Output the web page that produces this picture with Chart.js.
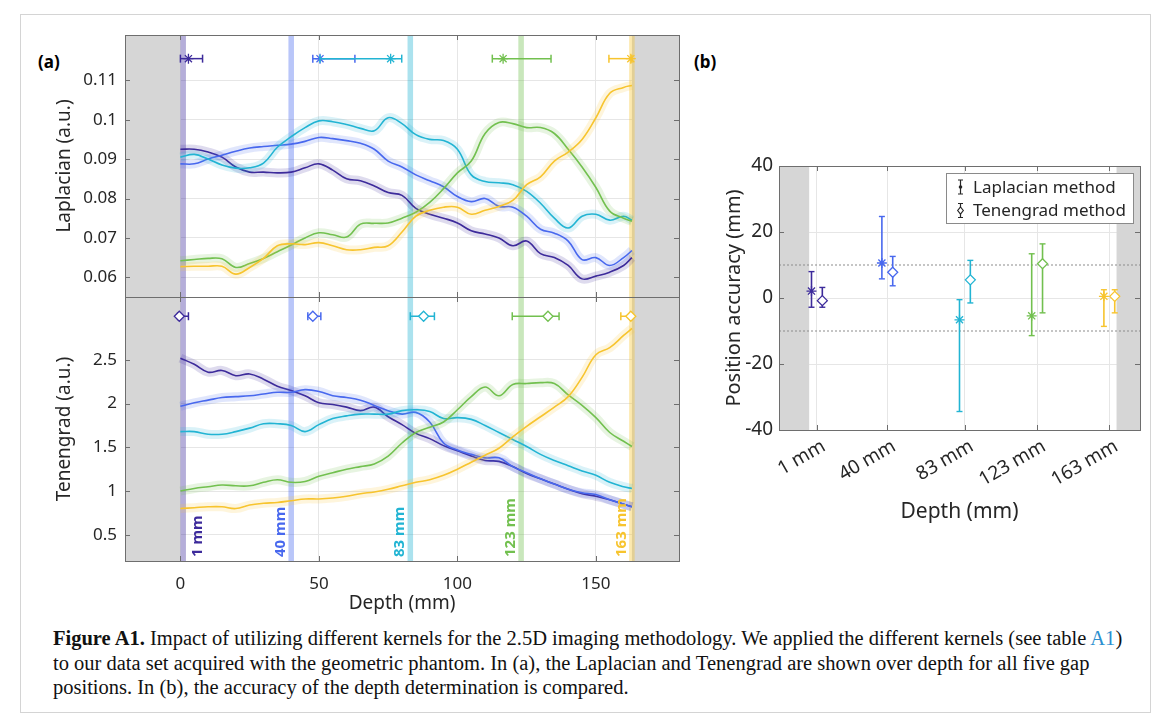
<!DOCTYPE html>
<html>
<head>
<meta charset="utf-8">
<title>Figure A1</title>
<script src="https://cdn.jsdelivr.net/npm/chart.js@4.4.1/dist/chart.umd.min.js"></script>
<style>
  html, body { margin: 0; padding: 0; background: #fff; }
  body { position: relative; width: 1171px; height: 724px; overflow: hidden; font-family: "Noto Sans", sans-serif; }
  canvas { position: absolute; }
  .tag { position: absolute; font-weight: bold; font-size: 17px; color: #000; }
  #caption { position: absolute; left: 53px; top: 626px; font-family: "Liberation Serif", serif; font-size: 20.5px; line-height: 24.5px; color: #111; white-space: nowrap; }
  #caption span { color: #2b8fcf; }
  #frame { position: absolute; left: 20px; top: 14px; width: 1129px; height: 697px; border: 1px solid #d4d4d4; }
</style>
</head>
<body>
<div id="frame"></div>
<div class="tag" style="left:38px; top:50px">(a)</div>
<div class="tag" style="left:694px; top:50px">(b)</div>
<canvas id="lap" width="650" height="267" style="left:40px; top:30px"></canvas>
<canvas id="ten" width="650" height="324" style="left:40px; top:297px"></canvas>
<canvas id="acc" width="450" height="380" style="left:700px; top:150px"></canvas>
<div id="caption">
  <b>Figure A1.</b> Impact of utilizing different kernels for the 2.5D imaging methodology. We applied the different kernels (see table <span>A1</span>)<br>
  to our data set acquired with the geometric phantom. In (a), the Laplacian and Tenengrad are shown over depth for all five gap<br>
  positions. In (b), the accuracy of the depth determination is compared.
</div>
<script>
// depth grid (mm) for the curves of panel (a)
const depth = [0, 5, 10, 15, 20, 25, 30, 35, 40, 45, 50, 55, 60, 65, 70, 75, 80, 85, 90, 95, 100, 105, 110, 115, 120, 125, 130, 135, 140, 145, 150, 155, 160, 163];

// gap positions
const gapDepths = [1, 40, 83, 123, 163];
const gapNames = ['1 mm', '40 mm', '83 mm', '123 mm', '163 mm'];
const gapColors = ['#3d2b9b', '#4868ee', '#22b4d3', '#72c04f', '#f7c42e'];

// Laplacian over depth, one array per gap position
const lap1 = [0.0925, 0.0925, 0.0918, 0.0905, 0.0880, 0.0867, 0.0867, 0.0865, 0.0867, 0.0878, 0.0888, 0.0872, 0.0850, 0.0845, 0.0832, 0.0815, 0.0808, 0.0775, 0.0760, 0.0750, 0.0738, 0.0718, 0.0710, 0.0700, 0.0680, 0.0692, 0.0660, 0.0650, 0.0630, 0.0596, 0.0603, 0.0613, 0.0630, 0.0650];
const lap40 = [0.0888, 0.0888, 0.0900, 0.0910, 0.0920, 0.0928, 0.0932, 0.0935, 0.0938, 0.0945, 0.0955, 0.0952, 0.0947, 0.0940, 0.0925, 0.0895, 0.0880, 0.0860, 0.0845, 0.0830, 0.0805, 0.0792, 0.0800, 0.0780, 0.0778, 0.0755, 0.0722, 0.0712, 0.0692, 0.0645, 0.0650, 0.0630, 0.0650, 0.0668];
const lap83 = [0.0905, 0.0912, 0.0900, 0.0885, 0.0877, 0.0878, 0.0890, 0.0930, 0.0957, 0.0980, 0.0997, 0.0995, 0.0988, 0.0978, 0.0972, 0.1005, 0.0990, 0.0962, 0.0950, 0.0947, 0.0925, 0.0860, 0.0843, 0.0840, 0.0835, 0.0818, 0.0788, 0.0750, 0.0725, 0.0755, 0.0760, 0.0745, 0.0755, 0.0745];
const lap123 = [0.0642, 0.0645, 0.0648, 0.0647, 0.0625, 0.0635, 0.0648, 0.0665, 0.0682, 0.0700, 0.0713, 0.0708, 0.0702, 0.0735, 0.0737, 0.0738, 0.0750, 0.0765, 0.0790, 0.0825, 0.0865, 0.0895, 0.0965, 0.0993, 0.0990, 0.0980, 0.0980, 0.0965, 0.0925, 0.0880, 0.0828, 0.0768, 0.0750, 0.0742];
const lap163 = [0.0627, 0.0628, 0.0628, 0.0628, 0.0608, 0.0625, 0.0648, 0.0680, 0.0685, 0.0683, 0.0688, 0.0680, 0.0670, 0.0670, 0.0676, 0.0680, 0.0715, 0.0755, 0.0770, 0.0778, 0.0778, 0.0760, 0.0770, 0.0780, 0.0795, 0.0835, 0.0855, 0.0895, 0.0918, 0.0950, 0.1005, 0.1067, 0.1082, 0.1087];

// Tenengrad over depth
const ten1 = [2.52, 2.45, 2.36, 2.38, 2.32, 2.34, 2.28, 2.20, 2.15, 2.09, 2.01, 1.99, 1.96, 1.92, 1.96, 1.85, 1.76, 1.66, 1.60, 1.52, 1.46, 1.40, 1.35, 1.34, 1.28, 1.20, 1.14, 1.08, 1.02, 0.97, 0.94, 0.90, 0.85, 0.82];
const ten40 = [1.97, 2.01, 2.04, 2.07, 2.08, 2.09, 2.11, 2.13, 2.13, 2.16, 2.14, 2.09, 2.07, 2.04, 1.98, 1.92, 1.88, 1.90, 1.79, 1.55, 1.47, 1.42, 1.38, 1.38, 1.28, 1.21, 1.14, 1.08, 1.02, 0.98, 0.96, 0.90, 0.85, 0.82];
const ten83 = [1.68, 1.68, 1.65, 1.65, 1.68, 1.72, 1.77, 1.77, 1.75, 1.68, 1.76, 1.83, 1.86, 1.88, 1.88, 1.88, 1.92, 1.93, 1.91, 1.83, 1.84, 1.82, 1.75, 1.67, 1.59, 1.51, 1.42, 1.35, 1.29, 1.23, 1.18, 1.10, 1.05, 1.03];
const ten123 = [1.00, 1.03, 1.05, 1.07, 1.06, 1.06, 1.10, 1.13, 1.10, 1.11, 1.17, 1.21, 1.25, 1.28, 1.31, 1.40, 1.55, 1.67, 1.73, 1.79, 1.93, 2.08, 2.19, 2.09, 2.22, 2.23, 2.24, 2.23, 2.10, 1.98, 1.84, 1.67, 1.57, 1.51];
const ten163 = [0.80, 0.81, 0.82, 0.82, 0.80, 0.84, 0.86, 0.87, 0.89, 0.91, 0.91, 0.92, 0.94, 0.97, 0.99, 1.02, 1.06, 1.10, 1.13, 1.18, 1.25, 1.33, 1.41, 1.49, 1.62, 1.74, 1.85, 1.96, 2.08, 2.30, 2.56, 2.64, 2.78, 2.86];

// estimated depth of each gap (mm), with ranges, shown as markers in (a)
const lapEst = [2.9, 50.4, 75.9, 116.5, 162.6];
const lapEstLo = [0, 47.8, 50.4, 112.6, 154.7];
const lapEstHi = [8, 63, 79.9, 133.8, 163];
const lapMarkLevel = 0.1155;
const tenEst = [-0.4, 47.8, 87.8, 132.7, 162.6];
const tenEstLo = [-1, 46, 83, 119.8, 159];
const tenEstHi = [2.9, 50.7, 91.7, 136.7, 163];
const tenMarkLevel = 3.0;

// position accuracy (mm), panel (b)
const accLap = [2.1, 10.6, -6.6, -5.4, 0.5];
const accLapLo = [-2.8, 5.8, -34.4, -11.4, -8.6];
const accLapHi = [8.0, 24.7, -0.5, 13.4, 2.5];
const accTen = [-0.8, 7.8, 5.5, 10.4, 0.5];
const accTenLo = [-2.8, 3.7, -1.5, -4.5, -4.5];
const accTenHi = [3.2, 12.6, 11.4, 16.4, 2.5];
const methodNames = ['Laplacian method', 'Tenengrad method'];
const toleranceLines = [10, -10];

// ticks and shaded areas
const lapTicks = [0.06, 0.07, 0.08, 0.09, 0.1, 0.11];
const tenTicks = [0.5, 1, 1.5, 2, 2.5];
const depthTicks = [0, 50, 100, 150];
const accTicks = [-40, -20, 0, 20, 40];
const outsideA = [[-20, 0], [163, 180]];
const outsideB = [[-20, -3.3], [167, 180]];

Chart.defaults.font.family = "'Noto Sans', sans-serif";
Chart.defaults.color = '#262626';

const gridColor = '#e6e6e6';
const textColor = '#262626';

function fade(hex, a) {
  const n = parseInt(hex.slice(1), 16);
  return `rgba(${n >> 16}, ${(n >> 8) & 255}, ${n & 255}, ${a})`;
}

// keep the plot box where it is meant to be (no room reserved for edge labels)
function noPad(s) {
  s.paddingTop = 0; s.paddingBottom = 0; s.paddingLeft = 0; s.paddingRight = 0;
}

// grey out-of-phantom zones + coloured gap bands
const regionsPlugin = {
  id: 'regions',
  beforeDatasetsDraw(chart, args, opts) {
    const { ctx, chartArea: a, scales: { x } } = chart;
    ctx.save();
    ctx.fillStyle = '#d6d6d6';
    (opts.gray || []).forEach(([lo, hi]) => {
      const l = Math.max(a.left, x.getPixelForValue(lo));
      const r = Math.min(a.right, x.getPixelForValue(hi));
      ctx.fillRect(l, a.top, r - l, a.bottom - a.top);
    });
    (opts.bands || []).forEach((d, i) => {
      const l = x.getPixelForValue(d - 1), r = x.getPixelForValue(d + 1);
      ctx.fillStyle = fade(gapColors[i], 0.38);
      ctx.fillRect(l, a.top, r - l, a.bottom - a.top);
    });
    ctx.restore();
  },
  afterDatasetsDraw(chart, args, opts) {
    if (!opts.labels) return;
    const { ctx, chartArea: a, scales: { x } } = chart;
    ctx.save();
    ctx.font = 'bold 15px "Noto Sans"';
    ctx.textBaseline = 'middle';
    ctx.textAlign = 'left';
    gapDepths.forEach((d, i) => {
      const px = x.getPixelForValue(d) + (i === 0 ? 15 : -10.5);
      ctx.save();
      ctx.translate(px, a.bottom - 4);
      ctx.rotate(-Math.PI / 2);
      ctx.fillStyle = gapColors[i];
      ctx.fillText(gapNames[i], 0, 0);
      ctx.restore();
    });
    ctx.restore();
  }
};

// MATLAB style box with inward ticks
const framePlugin = {
  id: 'frame',
  afterDatasetsDraw(chart) {
    const { ctx, chartArea: a, scales: { x, y } } = chart;
    const len = 5;
    ctx.save();
    ctx.strokeStyle = '#6e6e6e';
    ctx.lineWidth = 1;
    ctx.strokeRect(Math.round(a.left) + 0.5, Math.round(a.top) + 0.5, Math.round(a.right - a.left), Math.round(a.bottom - a.top));
    ctx.beginPath();
    x.ticks.forEach(t => {
      const px = Math.round(x.getPixelForValue(t.value)) + 0.5;
      ctx.moveTo(px, a.top); ctx.lineTo(px, a.top + len);
      ctx.moveTo(px, a.bottom); ctx.lineTo(px, a.bottom - len);
    });
    y.ticks.forEach(t => {
      const py = Math.round(y.getPixelForValue(t.value)) + 0.5;
      ctx.moveTo(a.left, py); ctx.lineTo(a.left + len, py);
      ctx.moveTo(a.right, py); ctx.lineTo(a.right - len, py);
    });
    ctx.stroke();
    ctx.restore();
  }
};

const accLegend = {
  id: 'accLegend',
  afterDraw(chart) {
    const { ctx, chartArea: a } = chart;
    const w = 187, h = 50, x0 = Math.round(a.right - 7 - w), y0 = Math.round(a.top + 7);
    ctx.save();
    ctx.fillStyle = '#fff';
    ctx.fillRect(x0, y0, w, h);
    ctx.strokeStyle = '#8a8a8a';
    ctx.lineWidth = 1;
    ctx.strokeRect(x0 + 0.5, y0 + 0.5, w, h);
    methodNames.forEach((label, i) => {
      const cy = y0 + 14 + i * 23.5, ix = x0 + 14.5;
      ctx.strokeStyle = textColor;
      ctx.lineWidth = 1.2;
      ctx.beginPath();
      ctx.moveTo(ix, cy - 7); ctx.lineTo(ix, cy + 7);
      ctx.moveTo(ix - 2.5, cy - 7); ctx.lineTo(ix + 2.5, cy - 7);
      ctx.moveTo(ix - 2.5, cy + 7); ctx.lineTo(ix + 2.5, cy + 7);
      ctx.stroke();
      if (i === 0) {
        ctx.fillStyle = textColor;
        ctx.beginPath(); ctx.arc(ix, cy, 1.8, 0, Math.PI * 2); ctx.fill();
      } else {
        ctx.fillStyle = '#fff';
        ctx.beginPath();
        ctx.moveTo(ix, cy - 3.5); ctx.lineTo(ix + 2.8, cy); ctx.lineTo(ix, cy + 3.5); ctx.lineTo(ix - 2.8, cy); ctx.closePath();
        ctx.fill(); ctx.stroke();
      }
      ctx.fillStyle = textColor;
      ctx.font = '17px "Noto Sans"';
      ctx.textBaseline = 'middle';
      ctx.textAlign = 'left';
      ctx.fillText(label, x0 + 27, cy + 1);
    });
    ctx.restore();
  }
};

function curveSets(values, color) {
  const pts = depth.map((d, i) => ({ x: d, y: values[i] }));
  return [
    { data: pts, showLine: true, borderColor: fade(color, 0.17), borderWidth: 9, pointRadius: 0, tension: 0.4 },
    { data: pts, showLine: true, borderColor: color, borderWidth: 1.6, pointRadius: 0, tension: 0.4 }
  ];
}

function hBar(lo, hi, y, color) {
  return {
    data: [{ x: lo, y }, { x: hi, y }], showLine: true, borderColor: color, borderWidth: 1.5,
    pointStyle: 'line', pointRotation: 90, pointRadius: 4, pointBorderColor: color, pointBorderWidth: 1.5
  };
}

function vBar(x, lo, hi, color) {
  return {
    data: [{ x, y: lo }, { x, y: hi }], showLine: true, borderColor: color, borderWidth: 1.6,
    pointStyle: 'line', pointRadius: 3, pointBorderColor: color, pointBorderWidth: 1.4
  };
}

function marker(x, y, color, style) {
  return {
    data: [{ x, y }], pointStyle: style, pointRadius: 5, pointBorderColor: color,
    pointBackgroundColor: '#fff', pointBorderWidth: 1.3
  };
}

function depthAxis(showLabels) {
  return {
    type: 'linear', min: -20, max: 180,
    afterBuildTicks: s => { s.ticks = depthTicks.map(v => ({ value: v })); },
    afterFit: s => { s.height = showLabels ? 60 : 0; noPad(s); },
    ticks: { display: showLabels, padding: 13, font: { size: 17 }, color: textColor },
    grid: { color: gridColor, drawTicks: false },
    border: { display: false },
    title: { display: showLabels, text: 'Depth (mm)', font: { size: 19 }, color: textColor, padding: { top: 0, bottom: 6 } }
  };
}

function valueAxis(min, max, ticks, label) {
  return {
    type: 'linear', min, max,
    afterBuildTicks: s => { s.ticks = ticks.map(v => ({ value: v })); },
    afterFit: s => { s.width = 85; noPad(s); },
    ticks: { padding: 8, font: { size: 17 }, color: textColor, callback: v => String(+v.toFixed(3)) },
    grid: { color: gridColor, drawTicks: false },
    border: { display: false },
    title: { display: true, text: label, font: { size: 19 }, color: textColor, padding: { top: 13, bottom: 0 } }
  };
}

const baseOpts = { responsive: false, animation: false, devicePixelRatio: 1, events: [] };

// ---- (a) top: Laplacian
const lapSeries = [lap1, lap40, lap83, lap123, lap163];
let lapSets = [];
lapSeries.forEach((s, i) => { lapSets = lapSets.concat(curveSets(s, gapColors[i])); });
gapDepths.forEach((d, i) => {
  lapSets.push(hBar(lapEstLo[i], lapEstHi[i], lapMarkLevel, gapColors[i]));
  lapSets.push(marker(lapEst[i], lapMarkLevel, gapColors[i], 'star'));
});

new Chart(document.getElementById('lap'), {
  type: 'scatter',
  data: { datasets: lapSets.reverse() },
  options: {
    ...baseOpts,
    layout: { autoPadding: false, padding: { top: 5, right: 11, left: 0, bottom: 0 } },
    plugins: { legend: { display: false }, tooltip: { enabled: false }, regions: { gray: outsideA, bands: gapDepths } },
    scales: { x: depthAxis(false), y: valueAxis(0.055, 0.1215, lapTicks, 'Laplacian (a.u.)') }
  },
  plugins: [regionsPlugin, framePlugin]
});

// ---- (a) bottom: Tenengrad
const tenSeries = [ten1, ten40, ten83, ten123, ten163];
let tenSets = [];
tenSeries.forEach((s, i) => { tenSets = tenSets.concat(curveSets(s, gapColors[i])); });
gapDepths.forEach((d, i) => {
  tenSets.push(hBar(tenEstLo[i], tenEstHi[i], tenMarkLevel, gapColors[i]));
  tenSets.push(marker(tenEst[i], tenMarkLevel, gapColors[i], 'rectRot'));
});

new Chart(document.getElementById('ten'), {
  type: 'scatter',
  data: { datasets: tenSets.reverse() },
  options: {
    ...baseOpts,
    layout: { autoPadding: false, padding: { top: 0, right: 11, left: 0, bottom: 0 } },
    plugins: { legend: { display: false }, tooltip: { enabled: false }, regions: { gray: outsideA, bands: gapDepths, labels: true } },
    scales: { x: depthAxis(true), y: valueAxis(0.2, 3.22, tenTicks, 'Tenengrad (a.u.)') }
  },
  plugins: [regionsPlugin, framePlugin]
});

// ---- (b) position accuracy
let accSets = toleranceLines.map(v => ({
  data: [{ x: -20, y: v }, { x: 180, y: v }], showLine: true, borderColor: '#8c8c8c',
  borderWidth: 1, borderDash: [2, 2], pointRadius: 0
}));
gapDepths.forEach((d, i) => {
  accSets.push(vBar(d - 3, accLapLo[i], accLapHi[i], gapColors[i]));
  accSets.push(marker(d - 3, accLap[i], gapColors[i], 'star'));
  accSets.push(vBar(d + 3, accTenLo[i], accTenHi[i], gapColors[i]));
  accSets.push(marker(d + 3, accTen[i], gapColors[i], 'rectRot'));
});

new Chart(document.getElementById('acc'), {
  type: 'scatter',
  data: { datasets: accSets.reverse() },
  options: {
    ...baseOpts,
    layout: { autoPadding: false, padding: { top: 16, right: 10, left: 0, bottom: 0 } },
    plugins: { legend: { display: false }, tooltip: { enabled: false }, regions: { gray: outsideB } },
    scales: {
      x: {
        type: 'linear', min: -20, max: 180,
        afterBuildTicks: s => { s.ticks = gapDepths.map(v => ({ value: v })); },
        afterFit: s => { s.height = 100; noPad(s); },
        ticks: { autoSkip: false, minRotation: 30, maxRotation: 30, padding: 5, labelOffset: 7, font: { size: 19 }, color: textColor, callback: (v, i) => gapNames[i] },
        grid: { color: gridColor, drawTicks: false },
        border: { display: false },
        title: { display: true, text: 'Depth (mm)', font: { size: 21 }, color: textColor, padding: { top: 0, bottom: 5 } }
      },
      y: {
        type: 'linear', min: -40, max: 40,
        afterBuildTicks: s => { s.ticks = accTicks.map(v => ({ value: v })); },
        afterFit: s => { s.width = 79; noPad(s); },
        ticks: { padding: 6, font: { size: 19 }, color: textColor },
        grid: { color: gridColor, drawTicks: false },
        border: { display: false },
        title: { display: true, text: 'Position accuracy (mm)', font: { size: 20 }, color: textColor, padding: { top: 22, bottom: 0 } }
      }
    }
  },
  plugins: [regionsPlugin, framePlugin, accLegend]
});
</script>
</body>
</html>
